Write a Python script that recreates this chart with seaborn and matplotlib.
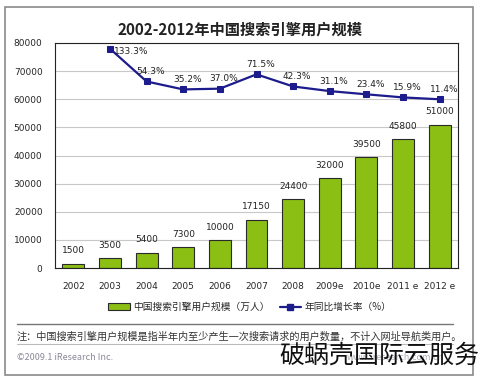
import matplotlib
matplotlib.use("Agg")
import matplotlib.pyplot as plt
from matplotlib.patches import Patch, Rectangle
from matplotlib.lines import Line2D
import pandas as pd
import seaborn as sns

years = ["2002", "2003", "2004", "2005", "2006", "2007", "2008",
         "2009e", "2010e", "2011 e", "2012 e"]
users = [1500, 3500, 5400, 7300, 10000, 17150, 24400, 32000, 39500, 45800, 51000]
growth_years = years[1:]
growth = [133.3, 54.3, 35.2, 37.0, 71.5, 42.3, 31.1, 23.4, 15.9, 11.4]

bar_color = "#8cbf14"
line_color = "#1c1c8c"

sns.set_theme(style="white")
plt.rcParams['font.family'] = ['Noto Sans CJK SC', 'DejaVu Sans']

df = pd.DataFrame({"year": years, "users": users})

fig = plt.figure(figsize=(4.8, 3.8), dpi=100)
fig.patch.set_facecolor("white")
# outer frame
fig.add_artist(Rectangle((5 / 480, 1 - 375 / 380), 468 / 480, 368 / 380,
                         transform=fig.transFigure, fill=False,
                         edgecolor="#8a8a8a", linewidth=1.2))

ax = fig.add_axes([55 / 480, 112 / 380, 403 / 480, 225 / 380])
sns.barplot(data=df, x="year", y="users", color=bar_color, width=0.6,
            edgecolor="#2a2a2a", linewidth=0.8, saturation=1, ax=ax)
ax.set_ylim(0, 80000)
ax.set_xlim(-0.5, 10.5)
ax.set_yticks(range(0, 80001, 10000))
ax.yaxis.grid(True, color="#c8c8c8", linewidth=0.8)
ax.set_axisbelow(True)
ax.set_xlabel("")
ax.set_ylabel("")
for s in ax.spines.values():
    s.set_color("#222222")
    s.set_linewidth(0.8)
ax.tick_params(axis="y", labelsize=6.5, pad=9, length=0)
ax.tick_params(axis="x", labelsize=6.5, pad=10, length=0)
for lab in ax.get_xticklabels() + ax.get_yticklabels():
    lab.set_family("DejaVu Sans")

for i, v in enumerate(users):
    ax.annotate(f"{v}", (i, v), xytext=(0, 6), textcoords="offset points",
                ha="center", va="bottom", fontsize=6.5, family="DejaVu Sans",
                color="#222222")

# growth line on a hidden secondary axis
ax2 = ax.twinx()
idx = list(range(1, len(years)))
sns.lineplot(x=idx, y=growth, ax=ax2, color=line_color, linewidth=1.6,
             marker="s", markersize=4.5, markeredgecolor=line_color)
ax2.set_ylim(-395, 147)
ax2.set_yticks([])
ax2.set_ylabel("")
for s in ax2.spines.values():
    s.set_visible(False)
for k, (i, g) in enumerate(zip(idx, growth)):
    if k == 0:
        ax2.annotate(f"{g:.1f}%", (i, g), xytext=(3, -2), textcoords="offset points",
                     ha="left", va="center", fontsize=6.5, family="DejaVu Sans",
                     color="#222222")
    else:
        ax2.annotate(f"{g:.1f}%", (i, g), xytext=(3, 4), textcoords="offset points",
                     ha="center", va="bottom", fontsize=6.5, family="DejaVu Sans",
                     color="#222222")

fig.text(240 / 480, 1 - 30 / 380, "2002-2012年中国搜索引擎用户规模",
         ha="center", va="center", fontsize=11, weight="bold", color="#222222")

handles = [Patch(facecolor=bar_color, edgecolor="#2a2a2a", linewidth=0.8),
           Line2D([0], [0], color=line_color, linewidth=1.6, marker="s",
                  markersize=4)]
fig.legend(handles, ["中国搜索引擎用户规模（万人）", "年同比增长率（%）"],
           loc="center", bbox_to_anchor=(250 / 480, 1 - 307 / 380), ncol=2,
           frameon=False, fontsize=7, handlelength=2.2, columnspacing=1.0,
           handletextpad=0.4)

fig.add_artist(Line2D([17 / 480, 453 / 480], [1 - 324 / 380] * 2,
                      transform=fig.transFigure, color="#777777", linewidth=1))
fig.text(17 / 480, 1 - 337 / 380,
         "注：中国搜索引擎用户规模是指半年内至少产生一次搜索请求的用户数量，不计入网址导航类用户。",
         ha="left", va="center", fontsize=7.3, color="#333333")
fig.add_artist(Line2D([17 / 480, 453 / 480], [1 - 344 / 380] * 2,
                      transform=fig.transFigure, color="#bbbbbb", linewidth=0.8))
fig.text(17 / 480, 1 - 357 / 380, "©2009.1 iResearch Inc.",
         ha="left", va="center", fontsize=6.5, color="#8a8a9a")
fig.text(395 / 480, 1 - 357 / 380, "www.iresearch.com.cn",
         ha="center", va="center", fontsize=6.5, color="#b0b0b8", zorder=1)
fig.text(479 / 480, 1 - 356 / 380, "破蜗壳国际云服务",
         ha="right", va="center", fontsize=18, color="#111111", zorder=3)

fig.savefig("out.png", dpi=100)
